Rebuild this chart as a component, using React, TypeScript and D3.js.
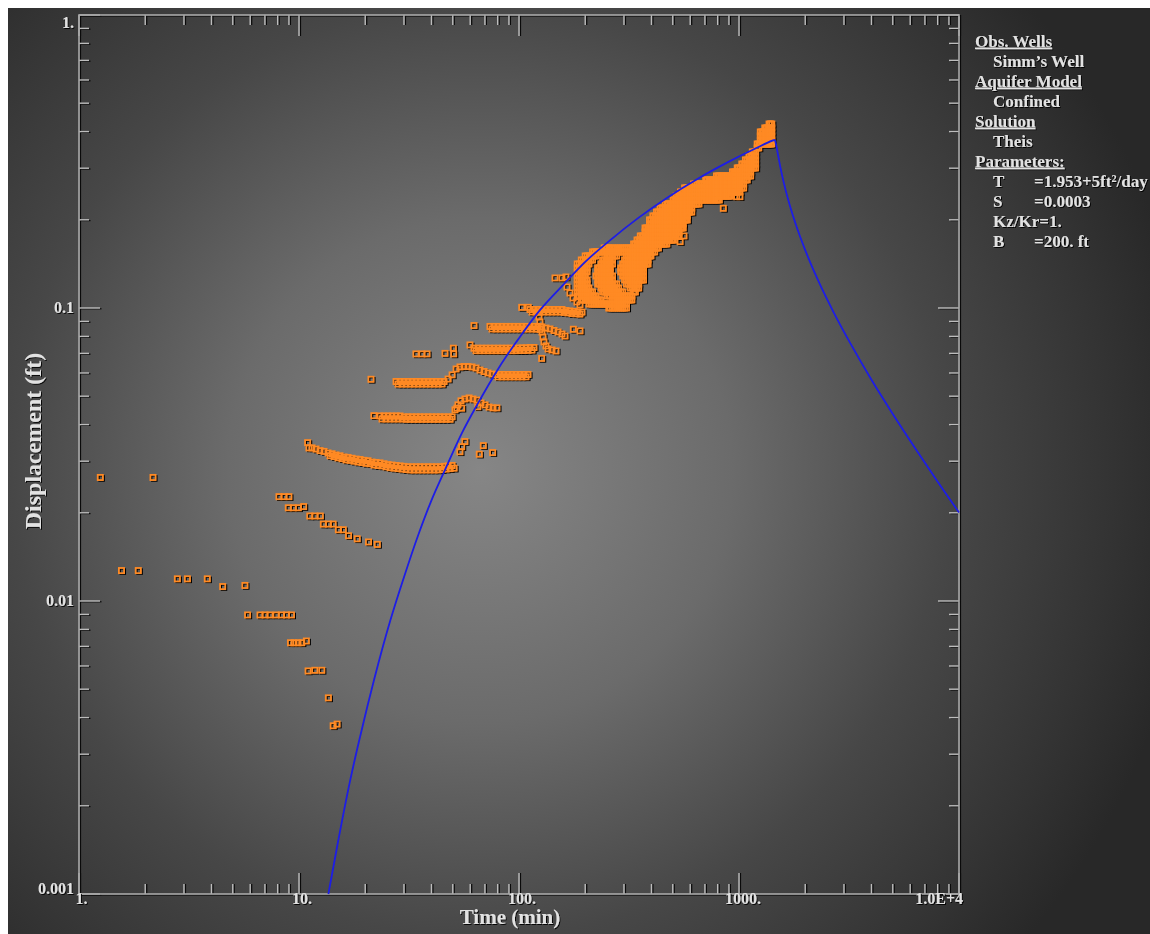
import React from 'react';
import * as d3 from 'd3';

type P = [number, number];

// ---------- axes ----------
const xTickValues = [1, 10, 100, 1000, 10000];
const xTickLabels = ['1.', '10.', '100.', '1000.', '1.0E+4'];
const yTickValues = [1, 0.1, 0.01, 0.001];
const yTickLabels = ['1.', '0.1', '0.01', '0.001'];
const xTitle = 'Time (min)';
const yTitle = 'Displacement (ft)';

// ---------- legend ----------
const legendKinds = ['h', 'i', 'h', 'i', 'h', 'i', 'h', 'i', 'i', 'i', 'i'];
const legendTexts = ['Obs. Wells', 'Simm’s Well', 'Aquifer Model', 'Confined', 'Solution', 'Theis', 'Parameters:', 'T', 'S', 'Kz/Kr=1.', 'B'];
const legendValues = ['', '', '', '', '', '', '', '=1.953+5ft²/day', '=0.0003', '', '=200. ft'];

// ---------- Theis solution (time min, displacement ft): pumping then recovery ----------
const theisCurve: P[] = [
  [13.6, 0.001], [15, 0.00149], [17, 0.0024], [19, 0.00347], [22, 0.00543], [26, 0.00858], [30, 0.01206],
  [35, 0.01697], [40, 0.02204], [46, 0.02793], [55, 0.0374], [65, 0.0472], [80, 0.0616], [100, 0.0789],
  [125, 0.0987], [160, 0.1207], [200, 0.1437], [260, 0.1705], [350, 0.2034], [470, 0.2375], [650, 0.2762],
  [900, 0.3158], [1200, 0.3515], [1440, 0.3743],
  [1450, 0.3749], [1460, 0.3719], [1480, 0.3557], [1500, 0.337], [1540, 0.3038], [1600, 0.2668],
  [1700, 0.2247], [1800, 0.1957], [2000, 0.1575], [2300, 0.1232], [2700, 0.0963], [3200, 0.076],
  [4000, 0.0569], [5000, 0.0435], [6500, 0.0322], [8000, 0.02553], [10000, 0.02006],
];

// ---------- observations: Simm's Well ----------
const obsEarly: P[] = [
  [1.25, 0.0264], [2.17, 0.0264],
  [1.56, 0.0127], [1.86, 0.0127],
  [2.8, 0.0119], [3.11, 0.0119], [3.83, 0.0119],
  [4.5, 0.0112], [5.68, 0.0113],
  [5.84, 0.00896], [6.65, 0.00896], [7.01, 0.00896], [7.38, 0.00896], [7.86, 0.00896], [8.33, 0.00896], [8.77, 0.00896], [9.24, 0.00896],
  [9.15, 0.0072], [9.49, 0.0072], [9.9, 0.0072], [10.3, 0.0072], [10.8, 0.0073],
  [11.0, 0.00577], [11.8, 0.0058], [12.7, 0.0058],
  [13.6, 0.00467],
  [14.3, 0.00375], [14.9, 0.0038],
];
const obsDecline: P[] = [
  [8.11, 0.0227], [8.55, 0.0227], [9.0, 0.0227],
  [8.94, 0.0208], [9.42, 0.0208], [9.93, 0.0208], [10.5, 0.021],
  [11.2, 0.0195], [11.8, 0.0195], [12.5, 0.0195],
  [12.9, 0.0183], [13.6, 0.0183], [14.3, 0.0183],
  [15.1, 0.0175], [15.9, 0.0175],
  [16.8, 0.0167], [18.4, 0.0163], [20.7, 0.0159], [22.7, 0.0156],
];
const obsSeg1: P[] = [
  [10.95, 0.0347], [11.1, 0.0333],
  [11.46, 0.0333], [11.95, 0.033], [12.46, 0.0326], [12.99, 0.0324], [13.55, 0.032], [14.13, 0.0318],
  [14.73, 0.0315], [15.36, 0.0313], [16.02, 0.031], [16.71, 0.0309], [17.42, 0.0307], [18.17, 0.0305],
  [18.94, 0.0304], [19.75, 0.0302], [20.6, 0.0301], [21.48, 0.0298], [22.4, 0.0297], [23.35, 0.0296],
  [24.35, 0.0294], [25.4, 0.0292], [26.48, 0.0291], [27.62, 0.029], [28.8, 0.0289], [30.03, 0.0288],
  [31.32, 0.0287], [32.66, 0.0287], [34.05, 0.0287], [35.51, 0.0287], [37.03, 0.0287], [38.62, 0.0287],
  [40.27, 0.0287], [41.99, 0.0287], [43.79, 0.0287], [45.66, 0.0288], [47.62, 0.0289], [49.65, 0.029],
  [56.8, 0.035], [54.9, 0.0336], [53.9, 0.0323], [68.8, 0.0339], [66.0, 0.0317], [75.9, 0.0321],
  [13.84, 0.0313], [14.43, 0.0311], [15.04, 0.0308], [15.68, 0.0306], [16.36, 0.0303], [17.06, 0.0302],
  [17.79, 0.03], [18.55, 0.0298], [19.34, 0.0297], [20.17, 0.0295], [21.03, 0.0294], [21.93, 0.0291],
  [22.87, 0.029], [23.84, 0.0289], [24.86, 0.0287], [25.94, 0.0285], [27.04, 0.0284], [28.2, 0.0283],
  [29.41, 0.0282], [30.66, 0.0281], [31.98, 0.028], [33.35, 0.028], [34.77, 0.028], [36.26, 0.028],
  [37.81, 0.028], [39.44, 0.028], [41.12, 0.028], [42.88, 0.028], [44.71, 0.0281], [46.62, 0.0282],
  [48.63, 0.0283], [50.7, 0.0284],
];
const obsSeg2: P[] = [
  [21.9, 0.0429],
  [23.35, 0.0428], [24.35, 0.0428], [25.4, 0.0428], [26.48, 0.0428], [27.62, 0.0428], [28.8, 0.0428],
  [30.03, 0.0425], [31.32, 0.0425], [32.66, 0.0425], [34.05, 0.0425], [35.51, 0.0425], [37.03, 0.0425],
  [38.62, 0.0425], [40.27, 0.0425], [41.99, 0.0425], [43.79, 0.0425], [45.66, 0.0425], [47.62, 0.0425], [49.65, 0.0425],
  [51.2, 0.0449], [52.8, 0.0467], [54.5, 0.0482], [56.8, 0.0489], [59.3, 0.0493], [61.8, 0.0489],
  [64.4, 0.0485], [67.2, 0.0474], [70.1, 0.0467], [73.1, 0.0459], [76.2, 0.0456], [79.4, 0.0456],
  [52.2, 0.0455], [54.9, 0.0455], [65.0, 0.046],
  [23.84, 0.0418], [24.86, 0.0418], [25.94, 0.0418], [27.04, 0.0418], [28.2, 0.0418], [29.41, 0.0418],
  [30.66, 0.0417], [31.98, 0.0417], [33.35, 0.0417], [34.77, 0.0417], [36.26, 0.0417], [37.81, 0.0417],
  [39.44, 0.0417], [41.12, 0.0417], [42.88, 0.0417], [44.71, 0.0417], [46.62, 0.0417], [48.63, 0.0417],
];
const obsSeg3: P[] = [
  [21.25, 0.0571],
  [27.62, 0.0561], [28.8, 0.0561], [30.03, 0.0561], [31.32, 0.0561], [32.66, 0.0561], [34.05, 0.0561],
  [35.51, 0.0561], [37.03, 0.0561], [38.62, 0.0561], [40.27, 0.0561], [41.99, 0.0561], [43.79, 0.0561], [45.66, 0.0561],
  [47.62, 0.0572], [49.65, 0.0591], [51.78, 0.0619], [53.92, 0.0629], [56.23, 0.0631], [58.65, 0.0631],
  [61.15, 0.0629], [63.77, 0.0624], [66.48, 0.0614], [69.33, 0.0607], [72.29, 0.06], [75.39, 0.0595],
  [78.61, 0.0593], [81.96, 0.0593], [85.47, 0.0593], [89.13, 0.0593], [92.93, 0.0593], [96.91, 0.0593],
  [101.0, 0.0593], [105.4, 0.0593], [109.9, 0.0593],
  [28.2, 0.055], [29.41, 0.055], [30.66, 0.055], [31.98, 0.055], [33.35, 0.055], [34.77, 0.055],
  [36.26, 0.055], [37.81, 0.055], [39.44, 0.055], [41.12, 0.055], [42.88, 0.055], [44.71, 0.055],
  [80.27, 0.0582], [83.69, 0.0582], [87.27, 0.0582], [91.01, 0.0582], [94.89, 0.0582], [98.95, 0.0582],
  [103.1, 0.0582], [107.6, 0.0582],
];
const obsSeg4: P[] = [
  [34.0, 0.0697], [36.2, 0.0697], [38.2, 0.0697], [46.1, 0.07], [50.3, 0.0729], [50.5, 0.0697],
  [59.88, 0.0748], [62.45, 0.0729], [65.12, 0.0729], [67.91, 0.0729], [70.79, 0.0729], [73.82, 0.0729],
  [76.98, 0.0729], [80.26, 0.0729], [83.7, 0.0729], [87.28, 0.0729], [91.0, 0.0729], [94.9, 0.0729],
  [98.96, 0.0729], [103.2, 0.0731], [107.6, 0.0731], [112.2, 0.0733], [117.0, 0.0733],
  [63.77, 0.0715], [66.49, 0.0715], [69.34, 0.0715], [72.28, 0.0715], [75.38, 0.0715], [78.6, 0.0715],
  [81.95, 0.0715], [85.47, 0.0715], [89.12, 0.0715], [92.92, 0.0715], [96.91, 0.0715], [101.0, 0.0716],
  [105.4, 0.0716], [109.9, 0.0717], [114.6, 0.0718],
];
const obsSeg5: P[] = [
  [62.45, 0.0871],
  [73.82, 0.0865], [76.98, 0.0865], [80.26, 0.0865], [83.7, 0.0865], [87.28, 0.0865], [91.0, 0.0865],
  [94.9, 0.0865], [98.96, 0.0865], [103.2, 0.0865], [107.6, 0.0865], [112.2, 0.0865], [117.0, 0.0865],
  [122.0, 0.0865], [127.2, 0.0861], [132.7, 0.0854], [138.3, 0.0848], [144.2, 0.0838], [150.4, 0.0828],
  [156.8, 0.0815], [161.9, 0.0802], [176.6, 0.0846], [189.4, 0.0835],
  [75.38, 0.0848], [78.6, 0.0848], [81.95, 0.0848], [85.47, 0.0848], [89.12, 0.0848], [92.92, 0.0848],
  [96.91, 0.0848], [101.0, 0.0848], [105.4, 0.0848], [109.9, 0.0848], [114.6, 0.0848], [119.5, 0.0847],
  [124.6, 0.0845],
];
const obsSeg6: P[] = [
  [102.9, 0.1005], [110.2, 0.1005],
  [112.2, 0.0988], [117.0, 0.0988], [122.0, 0.0988], [127.2, 0.0988], [132.7, 0.0988], [138.3, 0.0988],
  [144.2, 0.0988], [150.4, 0.0988], [156.8, 0.0988], [163.5, 0.098], [170.5, 0.0977], [177.8, 0.0973],
  [185.4, 0.097], [193.4, 0.0968],
  [114.6, 0.0969], [119.5, 0.0969], [124.6, 0.0969], [129.9, 0.0969], [135.5, 0.0969], [141.3, 0.0969],
  [147.3, 0.0969], [153.6, 0.0969], [160.1, 0.0966], [166.9, 0.0962], [174.1, 0.0958], [181.5, 0.0955], [189.3, 0.0953],
  [122.0, 0.0969], [123.3, 0.0932], [124.6, 0.0896], [125.9, 0.0861], [127.2, 0.0828], [128.6, 0.0796],
  [129.9, 0.0766], [132.7, 0.0742], [135.5, 0.0725], [141.3, 0.0719], [147.3, 0.0713], [126.8, 0.0673],
  [145.8, 0.1266], [156.8, 0.1266], [163.5, 0.1276],
  [165.3, 0.1179], [170.5, 0.1125], [176.0, 0.1082], [183.4, 0.1048], [189.4, 0.1024],
  [848.5, 0.2189], [976, 0.2398], [1010, 0.2398], [562.3, 0.1761], [539.9, 0.1684],
];
// late-time logger readings: times (min) and rows of [displacement, first time, last time]
const loggerTimes = [
  180, 184, 188, 192, 196, 200, 204, 208, 212, 216, 220, 224, 228, 232, 236, 240, 244, 248, 252, 256, 260,
  266, 272, 278, 284, 290, 296, 302, 308, 314, 320, 326, 332, 338, 344, 350, 356, 362, 368, 374, 380, 386, 392, 398,
  406, 414, 422, 430, 438, 446, 454, 462, 470, 478, 486, 494, 502, 510, 518, 526, 534, 542, 550, 558, 566, 574, 582, 590, 598,
  610, 622, 634, 646, 658, 670, 682, 694, 706, 718, 730, 742, 754, 766, 778, 790, 802, 814, 826, 838, 850, 862, 874, 886, 898,
  910, 922, 934, 946, 958, 970, 982, 994,
  1010, 1030, 1050, 1070, 1090, 1110, 1130, 1150, 1170, 1190, 1210, 1230, 1250, 1270, 1290, 1310, 1330, 1350, 1370, 1390, 1410, 1430, 1450,
];
const loggerRows: [number, number, number][] = [
  [0.4246, 1357, 1415], [0.4115, 1302, 1415], [0.3988, 1248, 1415], [0.3864, 1248, 1415], [0.3745, 1248, 1415],
  [0.3629, 1197, 1415], [0.3517, 1197, 1248], [0.3408, 1148, 1197], [0.3302, 1101, 1197], [0.32, 1056, 1197],
  [0.3101, 1012, 1197], [0.3005, 970.7, 1197], [0.2912, 930.8, 1148], [0.2822, 787.2, 1148], [0.2735, 694.2, 1101],
  [0.265, 612.2, 1056], [0.2568, 563.0, 1056], [0.2489, 539.9, 1012], [0.2411, 517.7, 930.8], [0.2337, 496.5, 820.9],
  [0.2264, 456.6, 665.7], [0.2194, 437.8, 612.2], [0.2126, 419.9, 612.2], [0.2061, 402.6, 587.1], [0.1997, 386.1, 587.1],
  [0.1935, 386.1, 563.0], [0.1875, 370.3, 563.0], [0.1817, 370.3, 539.9], [0.1761, 355.1, 539.9], [0.1706, 340.5, 517.7],
  [0.1653, 326.5, 476.1], [0.1602, 243.5, 437.8], [0.1553, 214.8, 419.9],
  [0.1505, 197.5, 227.4], [0.1505, 249.8, 280.4], [0.1505, 308.0, 402.6],
  [0.1458, 189.4, 218.1], [0.1458, 239.6, 271.7], [0.1458, 298.5, 386.1],
  [0.1413, 181.7, 211.3], [0.1413, 232.3, 266.1], [0.1413, 292.4, 386.1],
  [0.1369, 181.7, 206.9], [0.1369, 227.4, 263.4], [0.1369, 289.4, 370.3],
  [0.1327, 181.7, 204.8], [0.1327, 225.0, 263.4], [0.1327, 289.4, 370.3],
  [0.1286, 181.7, 202.7], [0.1286, 222.7, 266.1], [0.1286, 292.4, 370.3],
  [0.1246, 181.7, 204.8], [0.1246, 225.0, 271.7], [0.1246, 298.5, 370.3],
  [0.1207, 181.7, 206.9], [0.1207, 227.4, 280.4], [0.1207, 308.0, 355.1],
  [0.117, 181.7, 211.3], [0.117, 232.3, 289.4], [0.117, 317.9, 355.1],
  [0.1134, 181.7, 218.1], [0.1134, 239.6, 298.5], [0.1134, 328.0, 340.5],
  [0.1099, 181.7, 227.4], [0.1099, 249.8, 326.5],
  [0.1065, 189.4, 237.1], [0.1065, 260.5, 326.5],
  [0.1032, 206.0, 313.1], [0.1, 254.0, 313.1],
];

const FONT = "'Liberation Serif', 'Times New Roman', serif";
const TEXT = '#e2e2e2';
const ORANGE = '#ff8a24';

export default function App() {
  const W = 1142, H = 926;
  const L = 71, R = 951, T = 7, B = 886;
  const x = d3.scaleLog().domain([1, 10000]).range([L, R]);
  const y = d3.scaleLog().domain([0.001, 1]).range([B, T]);
  const line = d3.line<P>().x(d => x(d[0])).y(d => y(d[1])).curve(d3.curveMonotoneX);

  const loggerPts: P[] = [];
  loggerRows.forEach(([s, t0, t1]) => loggerTimes.forEach(t => { if (t >= t0 && t <= t1) loggerPts.push([t, s]); }));
  const obs: P[] = [...obsEarly, ...obsDecline, ...obsSeg1, ...obsSeg2, ...obsSeg3, ...obsSeg4, ...obsSeg5, ...obsSeg6, ...loggerPts];

  const isMajor = (v: number) => Math.abs(Math.log10(v) - Math.round(Math.log10(v))) < 1e-6;
  const xt = x.ticks();
  const yt = y.ticks();
  const tickCol = '#bdbdbd';
  const shCol = '#0a0a0a';
  const MS = 5.2;
  const xLabelShift = [2.5, 3, 3, 4];

  const tickLines: React.ReactElement[] = [];
  xt.forEach((v, i) => {
    const X = x(v); const len = isMajor(v) ? 21 : 10;
    tickLines.push(<line key={'xbs' + i} x1={X + 1.5} x2={X + 1.5} y1={B} y2={B - len} stroke={shCol} strokeWidth={1.2} />);
    tickLines.push(<line key={'xb' + i} x1={X} x2={X} y1={B} y2={B - len} stroke={tickCol} strokeWidth={1.4} />);
    tickLines.push(<line key={'xts' + i} x1={X + 1.5} x2={X + 1.5} y1={T} y2={T + len} stroke={shCol} strokeWidth={1.2} />);
    tickLines.push(<line key={'xt' + i} x1={X} x2={X} y1={T} y2={T + len} stroke={tickCol} strokeWidth={1.4} />);
  });
  yt.forEach((v, i) => {
    const Y = y(v); const len = isMajor(v) ? 21 : 10;
    tickLines.push(<line key={'yls' + i} x1={L + 1.5} x2={L + len + 1.5} y1={Y + 0.8} y2={Y + 0.8} stroke={shCol} strokeWidth={1.2} />);
    tickLines.push(<line key={'yl' + i} x1={L} x2={L + len} y1={Y} y2={Y} stroke={tickCol} strokeWidth={1.4} />);
    tickLines.push(<line key={'yrs' + i} x1={R + 1.5} x2={R - len + 1.5} y1={Y + 0.8} y2={Y + 0.8} stroke={shCol} strokeWidth={1.2} />);
    tickLines.push(<line key={'yr' + i} x1={R} x2={R - len} y1={Y} y2={Y} stroke={tickCol} strokeWidth={1.4} />);
  });

  return (
    <svg width={W} height={H} style={{ display: 'block', position: 'fixed', left: 8, top: 8 }}>
      <defs>
        <radialGradient id="bg" gradientUnits="userSpaceOnUse" cx={472} cy={462} r={720}>
          <stop offset="0" stopColor="#868686" />
          <stop offset="0.35" stopColor="#6b6b6b" />
          <stop offset="0.65" stopColor="#474747" />
          <stop offset="0.88" stopColor="#333333" />
          <stop offset="1" stopColor="#282828" />
        </radialGradient>
        <filter id="ts" x="-5%" y="-20%" width="115%" height="150%">
          <feDropShadow dx="1" dy="1" stdDeviation="0.4" floodColor="#000" floodOpacity="0.9" />
        </filter>
      </defs>
      <rect x={0} y={0} width={W} height={H} fill="url(#bg)" />

      {/* frame */}
      <rect x={L + 1.5} y={T + 1} width={R - L} height={B - T} fill="none" stroke={shCol} strokeWidth={1.2} />
      {tickLines}
      <rect x={L} y={T} width={R - L} height={B - T} fill="none" stroke="#a8a8a8" strokeWidth={1.6} />

      {/* observation markers */}
      <g>
        {obs.map((d, i) => (
          <rect key={'sh' + i} x={x(d[0]) - MS / 2 + 1.3} y={y(d[1]) - MS / 2 + 1} width={MS} height={MS}
            fill="none" stroke="#000" strokeWidth={1.3} />
        ))}
      </g>
      <g>
        {obs.map((d, i) => (
          <rect key={'ob' + i} x={x(d[0]) - MS / 2} y={y(d[1]) - MS / 2} width={MS} height={MS}
            fill="none" stroke={ORANGE} strokeWidth={1.8} />
        ))}
      </g>

      {/* Theis curve */}
      <path d={line(theisCurve) || ''} fill="none" stroke="#1d1de6" strokeWidth={1.8} />

      <g filter="url(#ts)" fill={TEXT} fontFamily={FONT} fontWeight="bold">
        {yTickValues.map((v, i) => (
          <text key={'yl' + i} x={66} y={Math.min(Math.max(y(v) + 5, 20), 886)} fontSize={16} textAnchor="end">{yTickLabels[i]}</text>
        ))}
        {xTickValues.map((v, i) => (
          <text key={'xl' + i} x={i === xTickValues.length - 1 ? x(v) + 4 : x(v) + xLabelShift[i]} y={896} fontSize={16}
            textAnchor={i === xTickValues.length - 1 ? 'end' : 'middle'}>{xTickLabels[i]}</text>
        ))}
        <text x={502} y={916} fontSize={21} textAnchor="middle">{xTitle}</text>
        <text transform="translate(33,433) rotate(-90)" fontSize={24} textAnchor="middle">{yTitle}</text>

        {legendTexts.map((txt, i) => (
          <g key={'lg' + i}>
            <text x={legendKinds[i] === 'h' ? 967 : 985} y={38.5 + i * 20} fontSize={17}
              textDecoration={legendKinds[i] === 'h' ? 'underline' : undefined}>{txt}</text>
            {legendValues[i] ? <text x={1026} y={38.5 + i * 20} fontSize={17}>{legendValues[i]}</text> : null}
          </g>
        ))}
      </g>
    </svg>
  );
}
